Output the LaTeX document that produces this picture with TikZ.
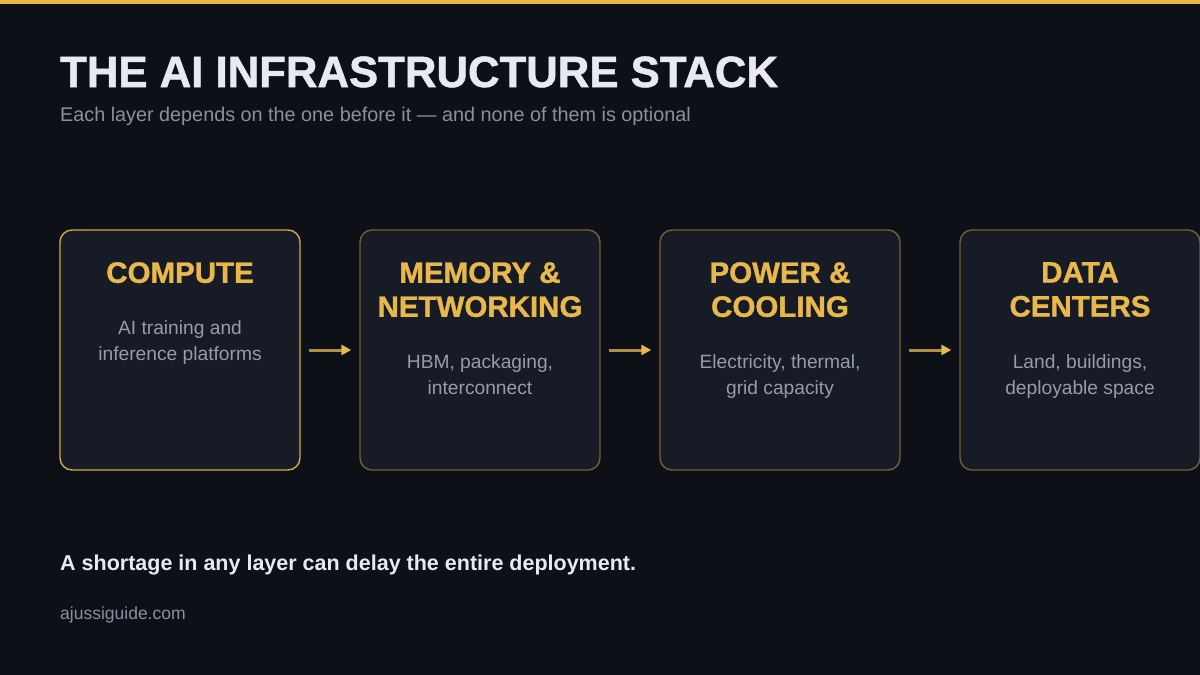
\documentclass[tikz,border=0pt]{standalone}
\usepackage{fontspec}
\setmainfont{Liberation Sans}
\newfontfamily\heavyfont[BoldFeatures={FakeBold=1.2}]{Liberation Sans}
\usetikzlibrary{arrows.meta}
\definecolor{bgc}{HTML}{0D1017}
\definecolor{goldc}{HTML}{E8B84A}
\definecolor{golddim}{HTML}{76602F}
\definecolor{goldbr}{HTML}{D4A843}
\definecolor{arrowline}{HTML}{B38E3E}
\definecolor{titlec}{HTML}{E8EAF0}
\definecolor{subc}{HTML}{8A90A0}
\definecolor{descc}{HTML}{959CAC}
\definecolor{boxfill}{HTML}{161B25}
\tikzset{
  layerbox/.style={draw=golddim, line width=1.4pt, fill=boxfill, rounded corners=12pt,
    minimum width=240pt, minimum height=240pt, inner sep=0pt},
  boxtitle/.style={text=goldc, font=\fontsize{29.5}{34}\selectfont\heavyfont\bfseries, align=center, inner sep=0pt, anchor=north},
  boxdesc/.style={text=descc, font=\fontsize{19.2}{26}\selectfont, align=center, inner sep=0pt, anchor=north},
  flow/.style={draw=arrowline, line width=3pt, -{Triangle[length=10pt,width=10pt,color=goldc]}, shorten <=8pt, shorten >=8pt}
}
\begin{document}
\begin{tikzpicture}[x=1pt,y=-1pt]
\useasboundingbox (0,0) rectangle (1200,675);
\fill[bgc] (0,0) rectangle (1200,675);
\fill[goldc] (0,0) rectangle (1200,4);
\node[anchor=base west, inner sep=0pt, text=titlec, font=\fontsize{43.7}{48}\selectfont\heavyfont\bfseries] (title) at (60,87) {THE AI INFRASTRUCTURE STACK};
\node[anchor=base west, inner sep=0pt, text=subc, font=\fontsize{19.8}{22}\selectfont] (subtitle) at (60,121) {Each layer depends on the one before it — and none of them is optional};

\node[layerbox, draw=goldbr] (b1) at (180,350) {};
\node[layerbox] (b2) at (480,350) {};
\node[layerbox] (b3) at (780,350) {};
\node[layerbox] (b4) at (1080,350) {};

\node[boxtitle] (t1) at (180,262) {COMPUTE};
\node[boxdesc] (d1) at (180,320) {AI training and\\inference platforms};
\node[boxtitle] (t2) at (480,262) {MEMORY \&\\NETWORKING};
\node[boxdesc] (d2) at (480,354) {HBM, packaging,\\interconnect};
\node[boxtitle] (t3) at (780,262) {POWER \&\\COOLING};
\node[boxdesc] (d3) at (780,354) {Electricity, thermal,\\grid capacity};
\node[boxtitle] (t4) at (1080,262) {DATA\\CENTERS};
\node[boxdesc] (d4) at (1080,354) {Land, buildings,\\deployable space};

\draw[flow] (b1.east) -- (b2.west);
\draw[flow] (b2.east) -- (b3.west);
\draw[flow] (b3.east) -- (b4.west);

\node[anchor=base west, inner sep=0pt, text=titlec, font=\fontsize{21.5}{25}\selectfont\bfseries] (note) at (60,570) {A shortage in any layer can delay the entire deployment.};
\node[anchor=base west, inner sep=0pt, text=subc, font=\fontsize{17.5}{20}\selectfont] (site) at (60,619) {ajussiguide.com};
\end{tikzpicture}
\end{document}
